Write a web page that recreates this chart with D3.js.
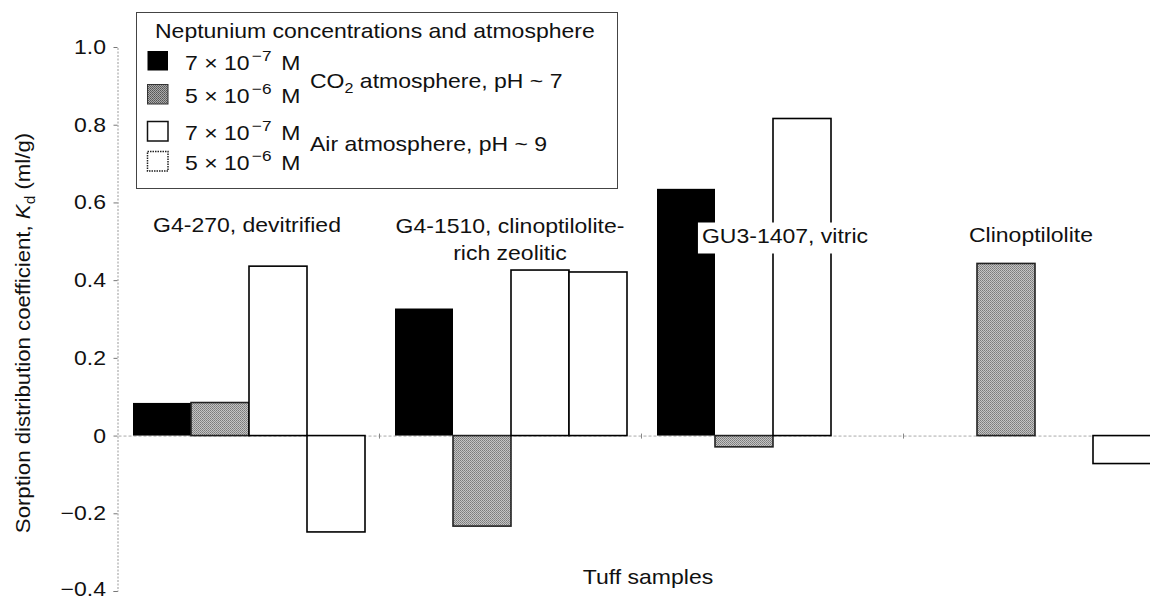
<!DOCTYPE html>
<html>
<head>
<meta charset="utf-8">
<script src="https://cdn.jsdelivr.net/npm/d3@7"></script>
<style>
  html, body { margin: 0; padding: 0; background: #fff; }
  svg { display: block; }
  text { font-family: "Liberation Sans", Arial, Helvetica, sans-serif; fill: #111; }
</style>
</head>
<body>
<svg id="chart" width="1150" height="600"></svg>
<script>
// ---- data ----
const categories = ["G4-270, devitrified", "G4-1510, clinoptilolite-rich zeolitic", "GU3-1407, vitric", "Clinoptilolite"];
const categoryLabelLines = [["G4-270, devitrified"], ["G4-1510, clinoptilolite-", "rich zeolitic"], ["GU3-1407, vitric"], ["Clinoptilolite"]];
const seriesKeys = ["co2_7e-7", "co2_5e-6", "air_7e-7", "air_5e-6"];
const seriesMantissa = ["7", "5", "7", "5"];
const seriesExponent = ["−7", "−6", "−7", "−6"];
const co2Low  = [0.084, 0.327, 0.635, null];
const co2High = [0.085, -0.233, -0.029, 0.443];
const airLow  = [0.436, 0.426, 0.816, null];
const airHigh = [-0.248, 0.421, null, -0.072];
const yTicks = [1.0, 0.8, 0.6, 0.4, 0.2, 0, -0.2, -0.4];
const legendTitle = "Neptunium concentrations and atmosphere";
const atmosphereLabels = ["atmosphere, pH ~ 7", "Air atmosphere, pH ~ 9"];
const xTitle = "Tuff samples";

const seriesValues = [co2Low, co2High, airLow, airHigh];

// ---- setup ----
const FS = 20, SX = 1.15;
const svg = d3.select("#chart");
const defs = svg.append("defs");
const pat = defs.append("pattern").attr("id", "stipple").attr("patternUnits", "userSpaceOnUse")
  .attr("width", 2).attr("height", 2);
pat.append("rect").attr("width", 2).attr("height", 2).attr("fill", "#c4c4c4");
pat.append("rect").attr("width", 1).attr("height", 1).attr("fill", "#7a7a7a");
pat.append("rect").attr("x", 1).attr("y", 1).attr("width", 1).attr("height", 1).attr("fill", "#8a8a8a");

const patL = defs.append("pattern").attr("id", "stippleDark").attr("patternUnits", "userSpaceOnUse")
  .attr("width", 2).attr("height", 2);
patL.append("rect").attr("width", 2).attr("height", 2).attr("fill", "#aaa");
patL.append("rect").attr("width", 1).attr("height", 1).attr("fill", "#555");
patL.append("rect").attr("x", 1).attr("y", 1).attr("width", 1).attr("height", 1).attr("fill", "#666");

const fills = ["#000", "url(#stipple)", "#fff", "#fff"];
const strokes = ["#000", "#222", "#000", "#000"];

function stext(g, x, y, str, anchor, rotate) {
  const t = g.append("text")
    .attr("transform", `translate(${x},${y})` + (rotate ? ` rotate(${rotate})` : "") + ` scale(${SX},1)`)
    .attr("text-anchor", anchor || "start")
    .style("font-size", FS + "px");
  if (str !== null) t.text(str);
  return t;
}

// scales
const y = d3.scaleLinear().domain([-0.4, 1.0]).range([591, 47]);
const x0 = d3.scaleBand().domain(categories).range([118, 1166]).padding(0);
const x1 = d3.scaleBand().domain(seriesKeys).range([15, x0.bandwidth() - 15]).padding(0);

// y axis (dotted line, short ticks, custom labels)
const axisX = 117.5;
const yAxis = d3.axisLeft(y).tickValues(yTicks).tickSize(4).tickFormat(() => "");
const yg = svg.append("g").attr("transform", `translate(${axisX},0)`).call(yAxis);
yg.select(".domain").attr("stroke", "#999").attr("stroke-dasharray", "2,1.5");
yg.selectAll(".tick line").attr("stroke", "#777");
yTicks.forEach(v => {
  const lab = v === 0 ? "0" : d3.format(".1f")(v);
  const off = v <= -0.4 ? 4.5 : 7;
  stext(svg, 106, y(v) + off, lab, "end");
});

// zero line with ticks at category boundaries
const xAxis = d3.axisBottom(x0).tickSize(0).tickFormat(() => "");
const xg = svg.append("g").attr("transform", `translate(0,${y(0)})`).call(xAxis);
xg.select(".domain").attr("stroke", "#aaa").attr("stroke-dasharray", "3,2");
xg.selectAll(".tick").remove();
categories.slice(1).forEach(c => {
  const bx = x0(c) - 0.5;
  svg.append("line").attr("x1", bx).attr("x2", bx).attr("y1", y(0) - 2).attr("y2", y(0) + 3)
    .attr("stroke", "#888").attr("stroke-width", 1);
});

// bars
const barData = [];
categories.forEach((c, ci) => {
  seriesKeys.forEach((k, si) => {
    const v = seriesValues[si][ci];
    if (v !== null && v !== undefined) barData.push({ c, k, si, v });
  });
});
svg.append("g").selectAll("rect").data(barData).join("rect")
  .attr("x", d => x0(d.c) + x1(d.k))
  .attr("width", x1.bandwidth())
  .attr("y", d => y(Math.max(0, d.v)))
  .attr("height", d => Math.abs(y(d.v) - y(0)))
  .attr("fill", d => fills[d.si])
  .attr("stroke", d => strokes[d.si])
  .attr("stroke-width", d => d.si === 0 ? 0 : 1.6);

// category labels
const labelBaselines = [231.5, 233, 243, 242];
const labelDx = [-2, -1, 12, -4];
categoryLabelLines.forEach((lines, ci) => {
  const cx = x0(categories[ci]) + x0.bandwidth() / 2 + labelDx[ci];
  const g = svg.append("g");
  lines.forEach((ln, li) => {
    const t = stext(g, cx, labelBaselines[ci] + li * 26.5, ln, "middle");
    if (ci === 2) {
      const w = t.node().getComputedTextLength() * SX;
      g.insert("rect", "text")
        .attr("x", cx - w / 2 - 4).attr("y", labelBaselines[ci] - 20.5)
        .attr("width", w + 8).attr("height", 31).attr("fill", "#fff");
    }
  });
});

// legend
const lg = svg.append("g");
lg.append("rect").attr("x", 136.5).attr("y", 12.5).attr("width", 481).attr("height", 176)
  .attr("fill", "#fff").attr("stroke", "#444").attr("stroke-width", 1);
stext(lg, 155, 37.5, legendTitle, "start");
const rowBase = [69.5, 103, 140, 170];
seriesKeys.forEach((k, i) => {
  const sy = rowBase[i] - 18.5;
  const r = lg.append("rect").attr("x", 147.5).attr("y", sy).attr("width", 20.5).attr("height", 19.5);
  if (i === 0) r.attr("fill", "#000");
  else if (i === 1) r.attr("fill", "url(#stippleDark)").attr("stroke", "#333").attr("stroke-width", 1);
  else if (i === 2) r.attr("fill", "#fff").attr("stroke", "#111").attr("stroke-width", 1.5);
  else r.attr("fill", "#fff").attr("stroke", "#222").attr("stroke-width", 1.5).attr("stroke-dasharray", "1.5,1");
  const t = stext(lg, 185, rowBase[i], null, "start");
  t.append("tspan").text(seriesMantissa[i] + " × 10");
  t.append("tspan").attr("dx", 2).attr("dy", -9).style("font-size", "15px").text(seriesExponent[i]);
  t.append("tspan").attr("dx", 3).attr("dy", 9).text(" M");
});
// CO2 label with subscript
const co2 = stext(lg, 310, 88, null, "start");
co2.append("tspan").text("CO");
co2.append("tspan").attr("dy", 5).style("font-size", "14px").text("2");
co2.append("tspan").attr("dy", -5).text(" " + atmosphereLabels[0]);
stext(lg, 310, 151, atmosphereLabels[1], "start");

// axis titles
stext(svg, 648, 583.5, xTitle, "middle");
const yt = stext(svg, 29.5, 333, null, "middle", -90);
yt.attr("transform", `translate(29.5,333) rotate(-90) scale(1.11,1)`);
yt.append("tspan").text("Sorption distribution coefficient, ");
yt.append("tspan").style("font-style", "italic").text("K");
yt.append("tspan").attr("dy", 5).style("font-size", "14px").text("d");
yt.append("tspan").attr("dy", -5).text(" (ml/g)");
</script>
</body>
</html>
